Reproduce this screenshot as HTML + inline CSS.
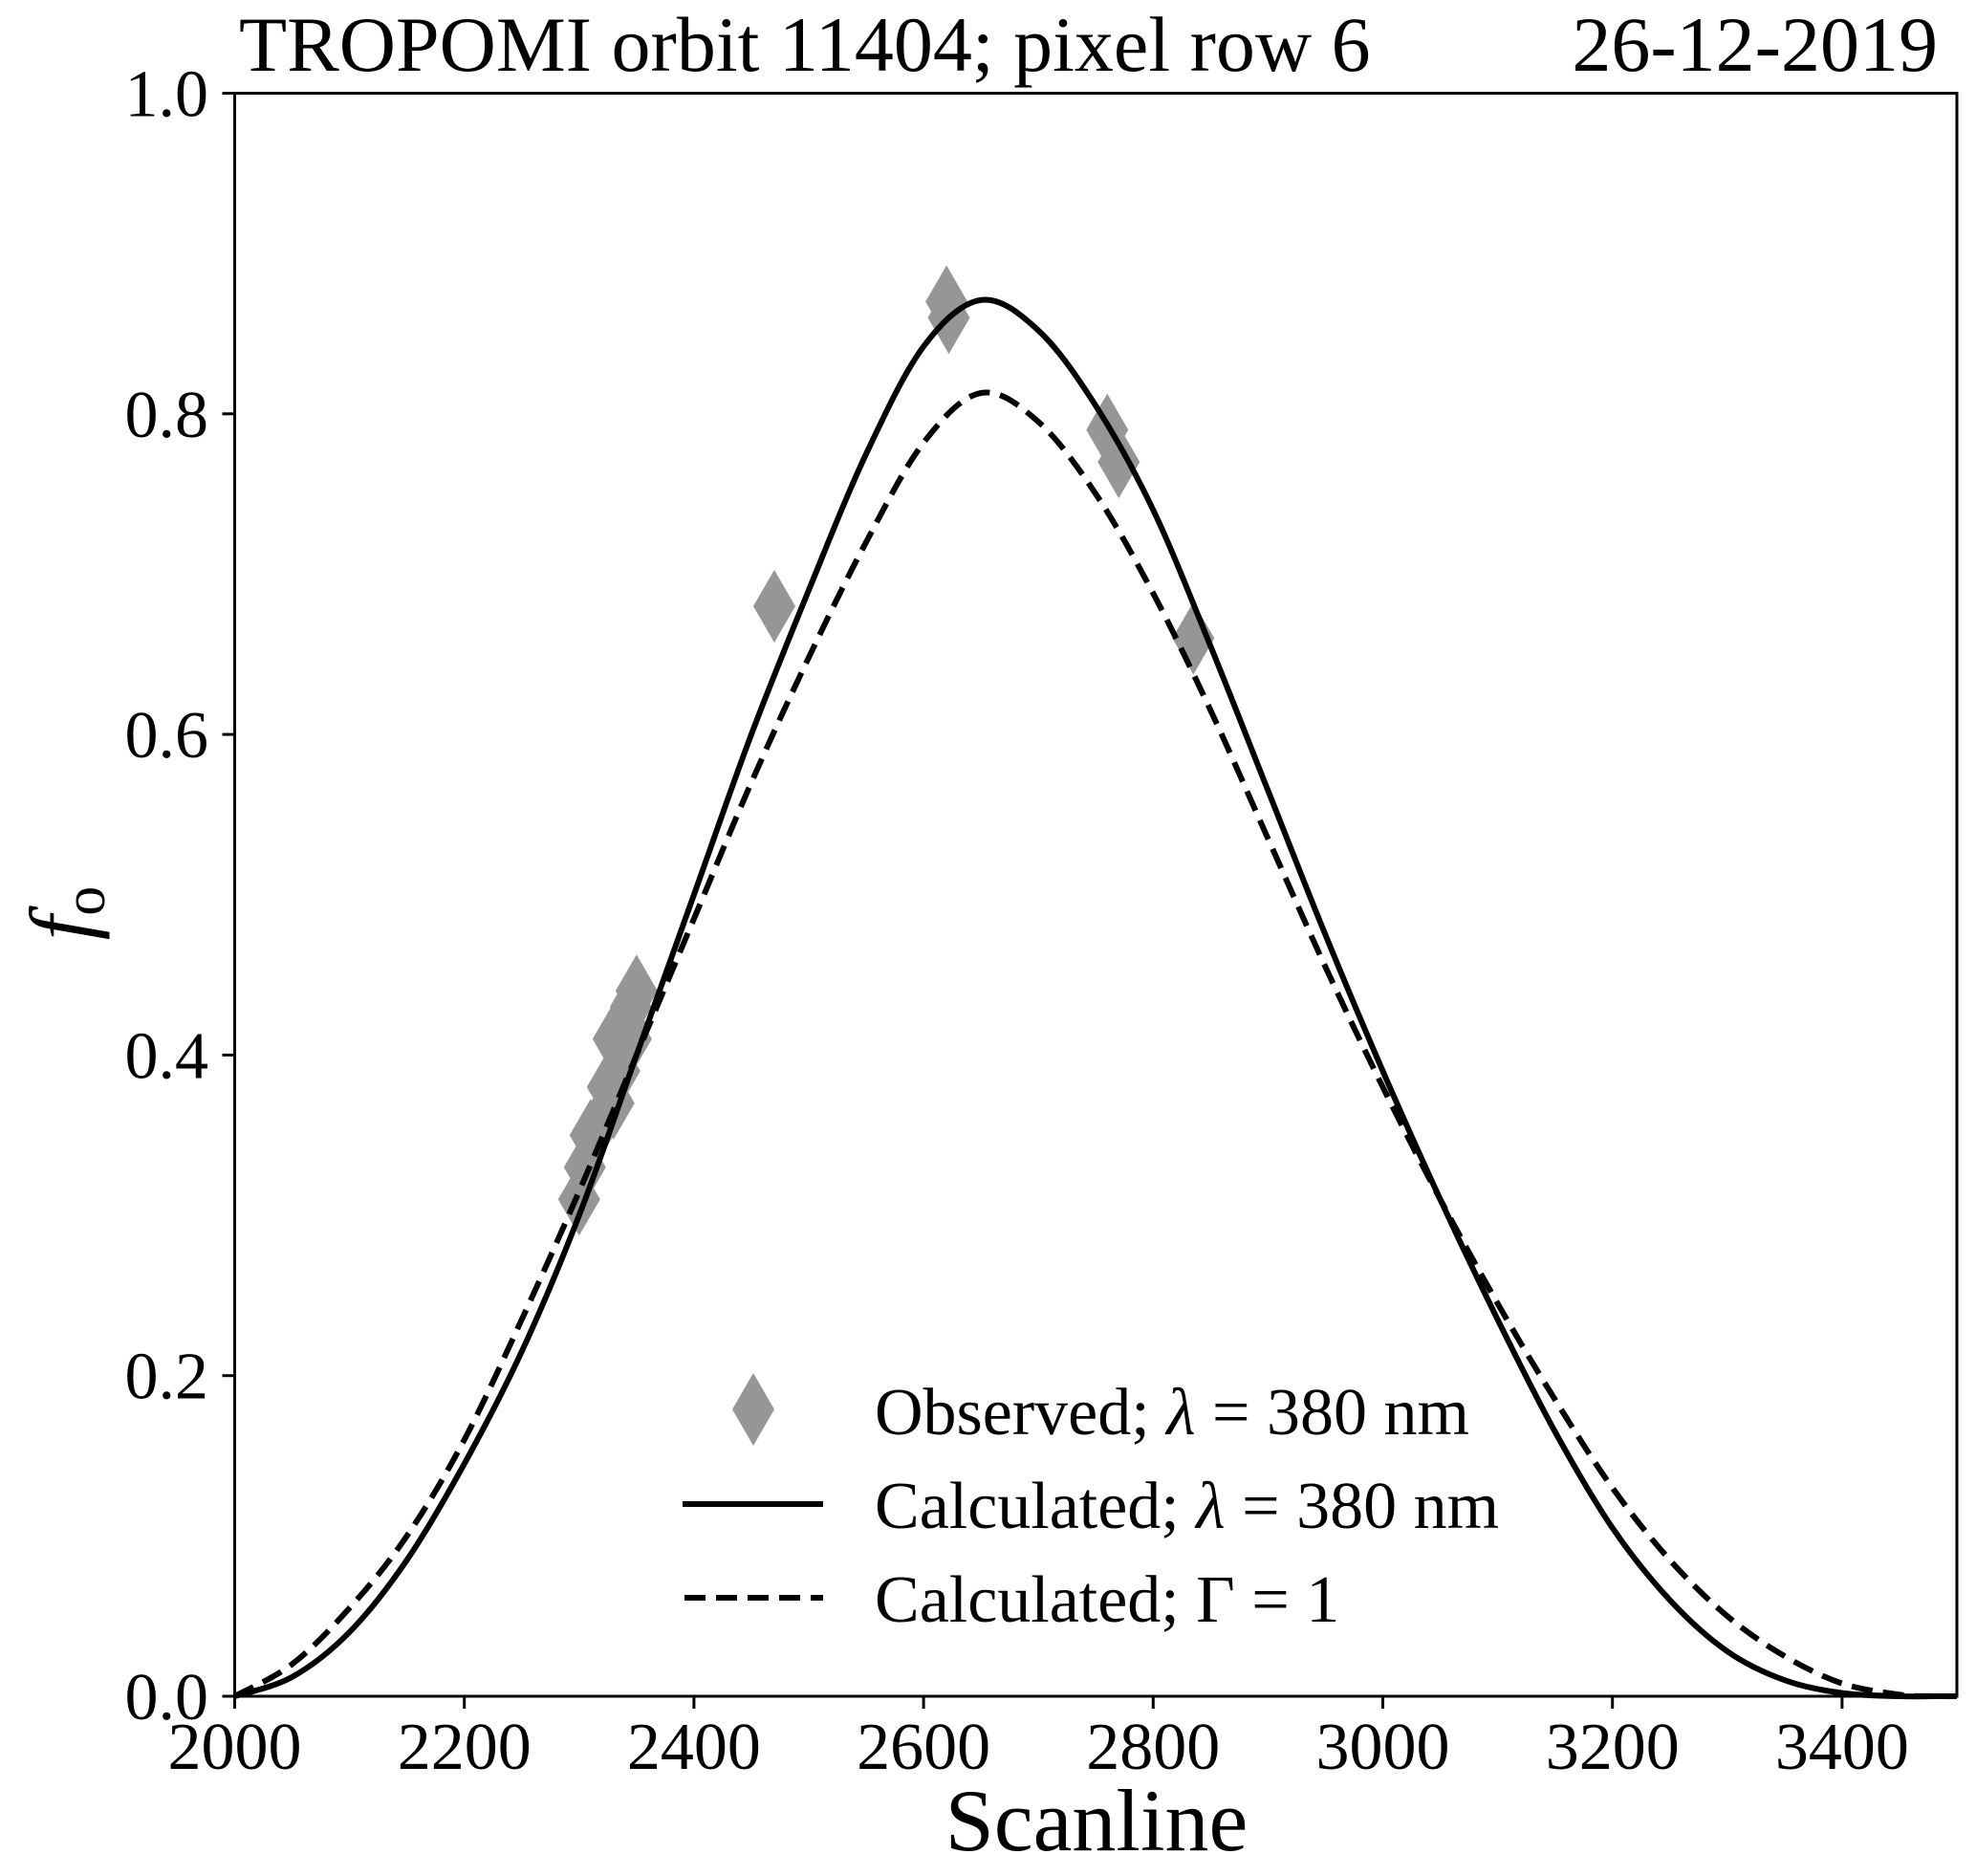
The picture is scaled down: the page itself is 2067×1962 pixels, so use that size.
<!DOCTYPE html>
<html><head><meta charset="utf-8"><style>
html,body{margin:0;padding:0;background:#fff;}
svg{display:block;font-family:"Liberation Serif","DejaVu Serif",serif;}
</style></head><body>
<svg id="chart" width="2067" height="1962" viewBox="0 0 2067 1962" xmlns="http://www.w3.org/2000/svg">
<rect width="2067" height="1962" fill="#fff"/>
<g id="marks"></g>
<g id="axes"></g>
<text x="250" y="74" font-size="82">TROPOMI orbit 11404; pixel row 6</text>
<text x="2027" y="74" font-size="82" text-anchor="end">26-12-2019</text>
<text x="1147" y="1935" font-size="92" text-anchor="middle">Scanline</text>
<text transform="translate(95,955) rotate(-90)" font-size="92" text-anchor="middle"><tspan font-style="italic">f</tspan><tspan font-size="62" dy="14">o</tspan></text>
<g>
<polygon points="788,1436 810,1474 788,1512 766,1474" fill="#969696"/>
<text x="915" y="1500" font-size="70">Observed; <tspan font-style="italic">λ</tspan> = 380 nm</text>
<line x1="714" y1="1573" x2="861" y2="1573" stroke="#000" stroke-width="6"/>
<text x="915" y="1598" font-size="70">Calculated; <tspan font-style="italic">λ</tspan> = 380 nm</text>
<line x1="716" y1="1671" x2="861" y2="1671" stroke="#000" stroke-width="6" stroke-dasharray="22,11"/>
<text x="915" y="1696" font-size="70">Calculated; Γ = 1</text>
</g>
</svg>
<script>
const obsX = [2300,2305,2310,2320,2325,2330,2335,2330,2340,2345,2350,2345,2470,2620,2622,2760,2770,2835];
const obsY = [0.31,0.33,0.35,0.36,0.38,0.37,0.39,0.41,0.42,0.43,0.44,0.41,0.68,0.87,0.86,0.79,0.77,0.66];
const curveX = [2000,2050,2100,2150,2200,2250,2300,2350,2400,2450,2500,2550,2600,2650,2700,2750,2800,2850,2900,2950,3000,3050,3100,3150,3200,3250,3300,3350,3400,3450,3480,3500];
const solidY = [0,0.012,0.04,0.085,0.145,0.215,0.30,0.40,0.50,0.60,0.69,0.775,0.842,0.871,0.852,0.805,0.74,0.655,0.565,0.475,0.39,0.31,0.235,0.165,0.105,0.06,0.028,0.01,0.002,0,0,0];
const dashedY = [0,0.02,0.055,0.10,0.16,0.235,0.315,0.40,0.485,0.57,0.648,0.72,0.782,0.813,0.795,0.75,0.688,0.615,0.535,0.455,0.38,0.31,0.245,0.185,0.13,0.085,0.05,0.025,0.008,0.001,0,0];
const xTicks = [2000,2200,2400,2600,2800,3000,3200,3400];
const yTicks = [0.0,0.2,0.4,0.6,0.8,1.0];
const yTickLabels = ["0.0","0.2","0.4","0.6","0.8","1.0"];

const L=245.5,R=2047,T=97.5,B=1774;
const xs = v => L + (v-2000)/1500*(R-L);
const ys = v => B - v*(B-T);
const NS="http://www.w3.org/2000/svg";
const marks=document.getElementById('marks'), axes=document.getElementById('axes');
function mk(tag,attrs,parent){const e=document.createElementNS(NS,tag);for(const k in attrs)e.setAttribute(k,attrs[k]);parent.appendChild(e);return e;}

obsX.forEach((x,i)=>{
  const cx=xs(x), cy=ys(obsY[i]);
  const p=mk('polygon',{points:`${cx},${cy-38} ${cx+22},${cy} ${cx},${cy+38} ${cx-22},${cy}`,fill:'#969696'},marks);
  
  
});
function smoothPath(X,Y){
  const P=X.map((x,i)=>[xs(x),ys(Y[i])]);
  let d=`M${P[0][0]},${P[0][1]}`;
  for(let i=0;i<P.length-1;i++){
    const p0=P[Math.max(0,i-1)],p1=P[i],p2=P[i+1],p3=P[Math.min(P.length-1,i+2)];
    const c1=[p1[0]+(p2[0]-p0[0])/6,p1[1]+(p2[1]-p0[1])/6];
    const c2=[p2[0]-(p3[0]-p1[0])/6,p2[1]-(p3[1]-p1[1])/6];
    d+=` C${c1[0]},${c1[1]} ${c2[0]},${c2[1]} ${p2[0]},${p2[1]}`;
  }
  return d;
}
const s=mk('path',{d:smoothPath(curveX,solidY),fill:'none',stroke:'#000','stroke-width':6},marks);


const dsh=mk('path',{d:smoothPath(curveX,dashedY),fill:'none',stroke:'#000','stroke-width':6,'stroke-dasharray':'22,11'},marks);



const frame=mk('rect',{x:L,y:T,width:R-L,height:B-T,fill:'none',stroke:'#000','stroke-width':3},axes);


xTicks.forEach(t=>{
  const x=xs(t);
  const tk=mk('line',{x1:x,y1:B,x2:x,y2:B+13,stroke:'#000','stroke-width':3},axes);
  
  
  const lb=mk('text',{x:x,y:1850,'font-size':70,'text-anchor':'middle'},axes);
  lb.textContent=String(t);
  
  
});
yTicks.forEach((t,i)=>{
  const y=ys(t);
  const tk=mk('line',{x1:L-13,y1:y,x2:L,y2:y,stroke:'#000','stroke-width':3},axes);
  
  
  const lb=mk('text',{x:218,y:y+24,'font-size':70,'text-anchor':'end'},axes);
  lb.textContent=yTickLabels[i];
  
  
});
</script>
</body></html>
